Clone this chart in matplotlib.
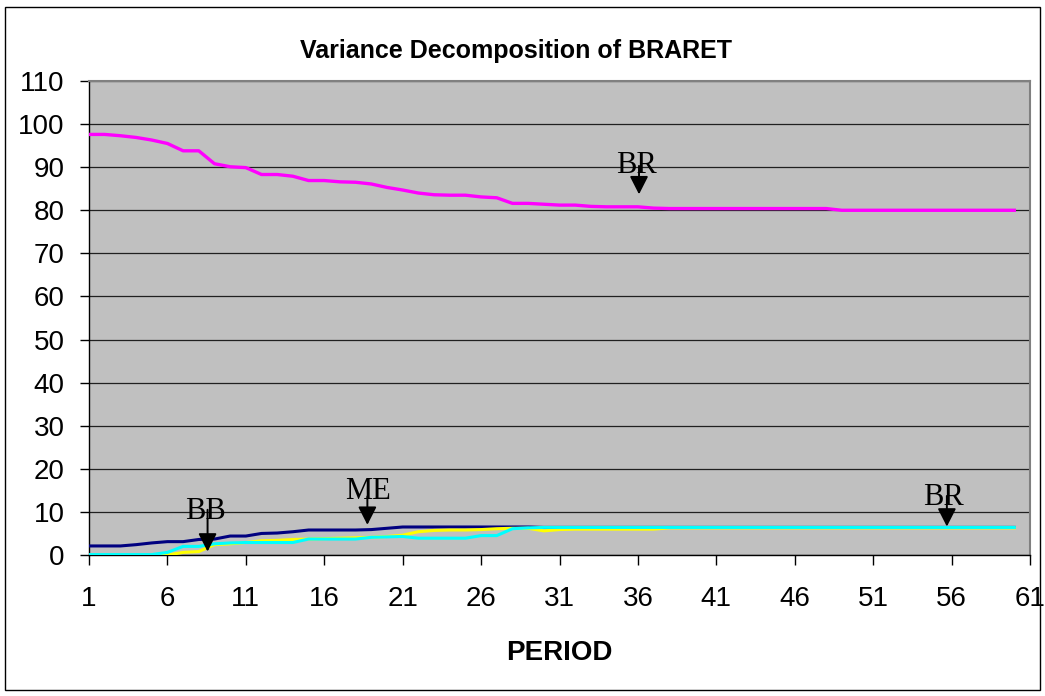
import matplotlib
matplotlib.use("Agg")
import matplotlib.pyplot as plt
from matplotlib.patches import Rectangle

plt.rcParams['font.family'] = ['Liberation Sans', 'DejaVu Sans']

# Данные: доли разложения дисперсии BRARET по периодам
periods = list(range(1, 61))

braret = [97.6, 97.6, 97.3, 96.9, 96.3, 95.5, 93.8, 93.8, 90.8, 90.1,
          89.9, 88.3, 88.3, 87.9, 86.9, 86.9, 86.6, 86.5, 86.1, 85.3,
          84.7, 84.0, 83.6, 83.5, 83.5, 83.1, 82.9, 81.6, 81.6, 81.4,
          81.2, 81.2, 80.9, 80.8, 80.8, 80.8, 80.5, 80.4, 80.4, 80.4,
          80.4, 80.4, 80.4, 80.4, 80.4, 80.4, 80.4, 80.4, 80.0, 80.0,
          80.0, 80.0, 80.0, 80.0, 80.0, 80.0, 80.0, 80.0, 80.0, 80.0]

me = [2.1, 2.1, 2.1, 2.4, 2.8, 3.1, 3.1, 3.6, 3.7, 4.4,
      4.4, 5.0, 5.1, 5.4, 5.8, 5.8, 5.8, 5.8, 5.9, 6.2,
      6.5, 6.5, 6.5, 6.5, 6.5, 6.5, 6.5, 6.5, 6.5, 6.4,
      6.4, 6.4, 6.4, 6.4, 6.4, 6.4, 6.4, 6.4, 6.4, 6.4,
      6.4, 6.4, 6.4, 6.4, 6.4, 6.4, 6.4, 6.4, 6.4, 6.4,
      6.4, 6.4, 6.4, 6.4, 6.4, 6.4, 6.4, 6.4, 6.4, 6.4]

bb = [0.0, 0.0, 0.0, 0.0, 0.0, 0.0, 0.6, 0.8, 2.4, 2.6,
      2.9, 3.3, 3.4, 3.6, 3.7, 3.8, 3.9, 4.0, 4.1, 4.3,
      4.6, 5.4, 5.7, 5.8, 5.8, 5.9, 6.1, 6.2, 6.2, 5.6,
      5.9, 6.0, 6.0, 6.0, 6.0, 6.0, 6.0, 6.3, 6.3, 6.3,
      6.3, 6.3, 6.3, 6.3, 6.3, 6.3, 6.3, 6.3, 6.3, 6.3,
      6.3, 6.3, 6.3, 6.3, 6.3, 6.3, 6.3, 6.3, 6.3, 6.3]

br = [0.1, 0.1, 0.1, 0.1, 0.1, 0.6, 2.0, 2.0, 2.6, 2.8,
      2.9, 2.9, 2.9, 2.9, 3.7, 3.7, 3.7, 3.7, 4.1, 4.2,
      4.3, 3.9, 3.9, 3.9, 3.9, 4.5, 4.5, 6.1, 6.3, 6.4,
      6.4, 6.4, 6.4, 6.4, 6.4, 6.4, 6.4, 6.4, 6.4, 6.4,
      6.4, 6.4, 6.4, 6.4, 6.4, 6.4, 6.4, 6.4, 6.4, 6.4,
      6.4, 6.4, 6.4, 6.4, 6.4, 6.4, 6.4, 6.4, 6.4, 6.4]

# подписи-стрелки: текст, x текста, y базовой линии, x стрелки, начало, конец
labels = [
    ('BR', 35.9, 88.6, 36.07, 90.3, 83.7),
    ('BB', 8.43, 8.3, 8.56, 10.5, 0.8),
    ('ME', 18.8, 13.0, 18.75, 13.6, 7.0),
    ('BR', 55.5, 11.6, 55.7, 13.7, 6.6),
]

xticks = list(range(1, 62, 5))
yticks = list(range(0, 111, 10))

fig = plt.figure(figsize=(10.45, 6.96), dpi=100)
ax = fig.add_axes([89 / 1045, 1 - 555 / 696, (1030 - 89) / 1045, (555 - 81) / 696])

# рамка вокруг всей диаграммы
fig.patches.append(Rectangle((5 / 1045, 1 - 690 / 696), 1035 / 1045, 683 / 696,
                             transform=fig.transFigure, fill=False,
                             edgecolor='black', linewidth=1))

ax.set_facecolor('#c0c0c0')
ax.plot(periods, braret, color='#ff00ff', lw=2.4, zorder=3)
ax.plot(periods, me, color='#000080', lw=2.2, zorder=3)
ax.plot(periods, bb, color='#ffff00', lw=2.2, zorder=3)
ax.plot(periods, br, color='#00ffff', lw=2.2, zorder=3)

for txt, tx, ty, axx, y0, y1 in labels:
    ax.text(tx, ty, txt, family='Liberation Serif', fontsize=22,
            ha='center', va='baseline', zorder=4)
    ax.annotate('', xy=(axx, y1), xytext=(axx, y0),
                arrowprops=dict(arrowstyle='-|>,head_length=0.55,head_width=0.28',
                                color='black', lw=1.4, mutation_scale=20,
                                shrinkA=0, shrinkB=0), zorder=5)

ax.set_xlim(1, 61)
ax.set_ylim(0, 110)
ax.set_xticks(xticks)
ax.set_yticks(yticks)
ax.grid(axis='y', color='#202020', lw=0.9)
ax.set_axisbelow(True)
ax.tick_params(axis='x', direction='out', length=7, width=1, pad=15, labelsize=20)
ax.tick_params(axis='y', direction='out', length=6.5, width=1, pad=11, labelsize=20)

for s in ['top', 'right']:
    ax.spines[s].set_color('#808080')
    ax.spines[s].set_linewidth(1.5)
for s in ['left', 'bottom']:
    ax.spines[s].set_color('black')
    ax.spines[s].set_linewidth(1)

fig.text(516 / 1045, 1 - 58 / 696, 'Variance Decomposition of BRARET',
         fontsize=18, fontweight='bold', ha='center', va='baseline')
fig.text(559.5 / 1045, 1 - 653 / 696, 'PERIOD',
         fontsize=20, fontweight='bold', ha='center', va='center')

fig.savefig('out.png', dpi=100)
